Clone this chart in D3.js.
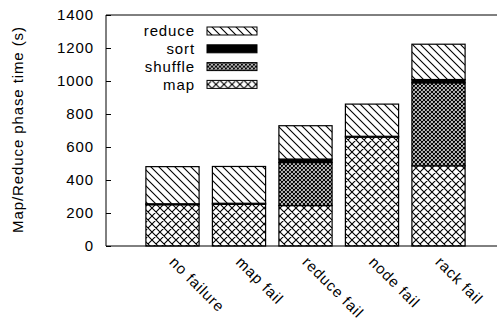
<!DOCTYPE html>
<html>
<head>
<meta charset="utf-8">
<script src="https://cdn.jsdelivr.net/npm/d3@7"></script>
<style>
  html, body { margin: 0; padding: 0; background: #fff; }
  svg text { font-family: "Liberation Sans", Arial, Helvetica, sans-serif; font-size: 15px; letter-spacing: 0.9px; fill: #000; }
</style>
</head>
<body>
<div id="chart"></div>
<script>
// failure scenarios
const categories = ["no failure", "map fail", "reduce fail", "node fail", "rack fail"];
// phase times in seconds, stacked bottom to top
const mapTime = [250, 253, 245, 660, 486];
const shuffleTime = [0, 0, 261, 0, 503];
const sortTime = [6, 6, 21, 5, 20];
const reduceTime = [225, 223, 202, 195, 214];
const yTicks = [0, 200, 400, 600, 800, 1000, 1200, 1400];
const legendOrder = ["reduce", "sort", "shuffle", "map"];

const width = 497, height = 322;
const margin = {top: 15, left: 106, bottom: 76};

const rows = categories.map((c, i) => ({
    name: c, idx: i,
    map: mapTime[i], shuffle: shuffleTime[i], sort: sortTime[i], reduce: reduceTime[i]
}));
const keys = ["map", "shuffle", "sort", "reduce"];
const stack = d3.stack().keys(keys)(rows);

const svg = d3.select("#chart").append("svg")
    .attr("width", width)
    .attr("height", height);

// fill patterns
const defs = svg.append("defs");
const pReduce = defs.append("pattern").attr("id", "p-reduce")
    .attr("patternUnits", "userSpaceOnUse").attr("width", 8).attr("height", 8);
pReduce.append("rect").attr("width", 8).attr("height", 8).attr("fill", "#fff");
pReduce.append("path").attr("d", "M-1,-1L9,9M-1,7L1,9M7,-1L9,1")
    .attr("stroke", "#000").attr("stroke-width", 1.1);

const pMap = defs.append("pattern").attr("id", "p-map")
    .attr("patternUnits", "userSpaceOnUse").attr("width", 8).attr("height", 8);
pMap.append("rect").attr("width", 8).attr("height", 8).attr("fill", "#fff");
pMap.append("path").attr("d", "M-1,-1L9,9M-1,7L1,9M7,-1L9,1M-1,9L9,-1M-1,1L1,-1M7,9L9,7")
    .attr("stroke", "#000").attr("stroke-width", 1.1);

const pShuffle = defs.append("pattern").attr("id", "p-shuffle")
    .attr("patternUnits", "userSpaceOnUse").attr("width", 4).attr("height", 4);
pShuffle.append("rect").attr("width", 4).attr("height", 4).attr("fill", "#fff");
pShuffle.append("path").attr("d", "M-1,-1L5,5M-1,3L1,5M3,-1L5,1M-1,5L5,-1M-1,1L1,-1M3,5L5,3")
    .attr("stroke", "#000").attr("stroke-width", 1.2);

const fills = {map: "url(#p-map)", shuffle: "url(#p-shuffle)", sort: "#000", reduce: "url(#p-reduce)"};

const x = d3.scaleLinear().domain([-1, 5]).range([margin.left, margin.left + 6 * 66.5]);
const y = d3.scaleLinear().domain([0, 1400]).range([height - margin.bottom, margin.top]);
const barW = x(0.8) - x(0);

// bars
svg.append("g").selectAll("g")
    .data(stack)
    .join("g")
    .attr("fill", d => fills[d.key])
    .selectAll("rect")
    .data(d => d)
    .join("rect")
    .attr("x", d => x(d.data.idx) - barW / 2)
    .attr("y", d => y(d[1]))
    .attr("width", barW)
    .attr("height", d => y(d[0]) - y(d[1]))
    .attr("stroke", "#000")
    .attr("stroke-width", 1.2);

// y axis, ticks inward
const yAxis = svg.append("g")
    .attr("transform", `translate(${margin.left},0)`)
    .call(d3.axisRight(y).tickValues(yTicks).tickSize(5).tickFormat(""));
yAxis.select(".domain").remove();
yAxis.selectAll("line").attr("stroke", "#000");

svg.append("g").selectAll("text")
    .data(yTicks)
    .join("text")
    .attr("x", 94)
    .attr("y", d => y(d))
    .attr("dy", "0.36em")
    .attr("text-anchor", "end")
    .text(d => d);

// frame
svg.append("path")
    .attr("d", `M${width + 2},${y(1400)}H${margin.left}V${y(0)}H${width + 2}`)
    .attr("fill", "none")
    .attr("stroke", "#000")
    .attr("stroke-width", 1);

// x labels, rotated
svg.append("g").selectAll("text")
    .data(categories)
    .join("text")
    .attr("transform", (d, i) => `translate(${x(i) - 4},${y(0) + 17}) rotate(45)`)
    .text(d => d);

// y title
svg.append("text")
    .attr("transform", `translate(23,${(y(0) + y(1400)) / 2 - 1}) rotate(-90)`)
    .attr("text-anchor", "middle")
    .text("Map/Reduce phase time (s)");

// legend
const legend = svg.append("g").selectAll("g")
    .data(legendOrder)
    .join("g")
    .attr("transform", (d, i) => `translate(0,${31 + i * 17.8})`);
legend.append("text")
    .attr("x", 195)
    .attr("dy", "0.36em")
    .attr("text-anchor", "end")
    .text(d => d);
legend.append("rect")
    .attr("x", 207)
    .attr("y", -4)
    .attr("width", 50)
    .attr("height", 8)
    .attr("fill", d => fills[d])
    .attr("stroke", "#000")
    .attr("stroke-width", 1);
</script>
</body>
</html>
